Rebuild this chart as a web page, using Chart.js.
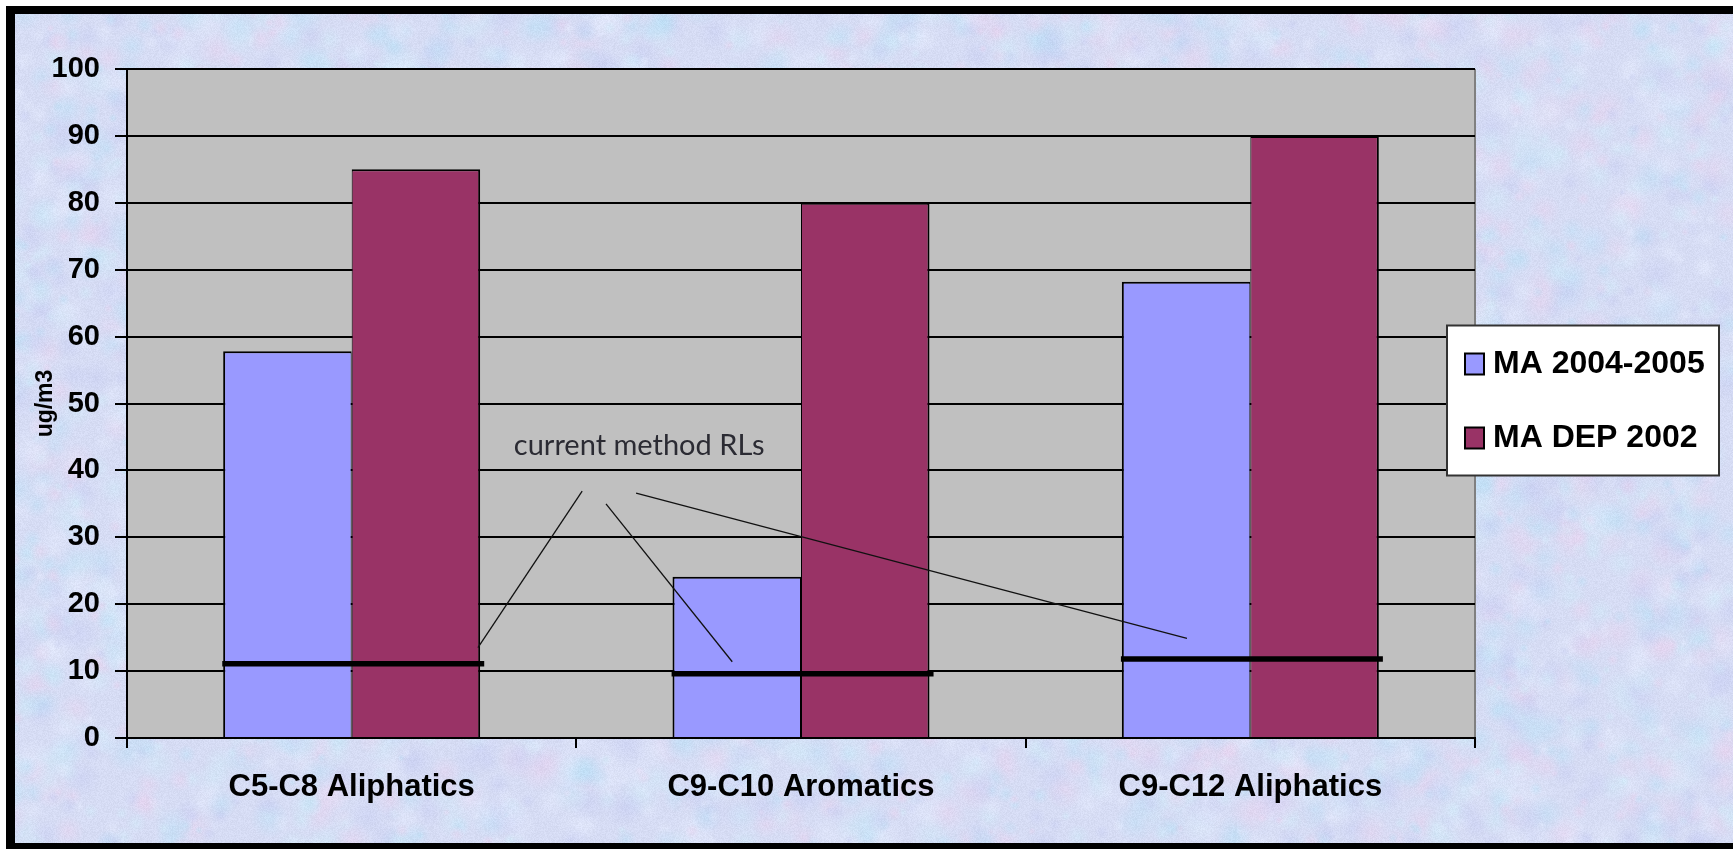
<!DOCTYPE html>
<html>
<head>
<meta charset="utf-8">
<title>Petroleum hydrocarbon fractions in indoor air</title>
<script src="https://cdn.jsdelivr.net/npm/chart.js@4.4.1/dist/chart.umd.min.js"></script>
<style>
  html, body { margin: 0; padding: 0; background: #fff; }
  #wrap { position: relative; width: 1733px; height: 849px; overflow: hidden; }
  #bg, #chart { position: absolute; left: 0; top: 0; }
</style>
</head>
<body>
<div id="wrap">
  <canvas id="bg" width="1733" height="849"></canvas>
  <canvas id="chart" width="1733" height="849"></canvas>
</div>
<script>
// ---- data ----
const categories = ['C5-C8 Aliphatics', 'C9-C10 Aromatics', 'C9-C12 Aliphatics'];
const seriesNames = ['MA 2004-2005', 'MA DEP 2002'];
const ma20042005 = [57.8, 24.1, 68.2];
const maDep2002 = [85, 80, 90];
const reportingLimits = [11.1, 9.6, 11.8];
const yTicks = [0, 10, 20, 30, 40, 50, 60, 70, 80, 90, 100];
const yTitle = 'ug/m3';

// callout: label anchor and leader lines, in (category index, value) units
const calloutText = 'current method RLs';
const calloutAnchor = [0.64, 43.7];
const leaderStarts = [[0.513, 36.9], [0.566, 35.0], [0.633, 36.6]];
const leaderEnds = [[0.281, 13.5], [0.847, 11.4], [1.859, 14.9]];
const rlSpan = [-0.288, 0.295];

const seriesColors = ['#9999ff', '#993366'];

// ---- textured backdrop with black frame ----
(function drawBackdrop() {
  const c = document.getElementById('bg');
  const g = c.getContext('2d');
  const W = c.width, H = c.height;
  g.fillStyle = '#ffffff';
  g.fillRect(0, 0, W, H);
  g.fillStyle = '#d6dcf4';
  g.fillRect(6, 6, W - 6, H - 6);
  let s = 20240607;
  const rnd = () => { s = (Math.imul(s, 1664525) + 1013904223) >>> 0; return s / 4294967296; };
  const tints = [[188, 224, 246], [232, 210, 238], [228, 234, 252], [200, 206, 242], [208, 234, 248]];
  for (let i = 0; i < 5000; i++) {
    const x = rnd() * W, y = rnd() * H, r = 4 + rnd() * 18;
    const t = tints[Math.floor(rnd() * tints.length)];
    const grd = g.createRadialGradient(x, y, 0, x, y, r);
    grd.addColorStop(0, `rgba(${t[0]},${t[1]},${t[2]},0.5)`);
    grd.addColorStop(1, `rgba(${t[0]},${t[1]},${t[2]},0)`);
    g.fillStyle = grd;
    g.beginPath(); g.arc(x, y, r, 0, Math.PI * 2); g.fill();
  }
  const img = g.getImageData(0, 0, W, H);
  const d = img.data;
  for (let i = 0; i < d.length; i += 4) {
    const n = (rnd() - 0.5) * 12;
    d[i] += n; d[i + 1] += n; d[i + 2] += n;
  }
  g.putImageData(img, 0, 0);
  g.fillStyle = '#ffffff';
  g.fillRect(0, 0, W, 6); g.fillRect(0, 0, 6, H);
  g.fillStyle = '#000000';
  g.fillRect(6, 6, 9, H - 6);      // left edge
  g.fillRect(6, 6, W - 6, 8);      // top edge
  g.fillRect(6, H - 6, W - 6, 6);  // bottom edge
})();

// ---- datasets ----
const barDatasets = [ma20042005, maDep2002].map((vals, k) => ({
  label: seriesNames[k],
  data: vals,
  backgroundColor: seriesColors[k],
  borderColor: '#000000',
  borderWidth: k === 0 ? { left: 2, top: 2, right: 1, bottom: 0 } : { left: 1, top: 2, right: 2, bottom: 0 },
  borderSkipped: 'start',
  categoryPercentage: 0.572,
  barPercentage: 1
}));

// ---- plugins ----
const plotPanel = {
  id: 'plotPanel',
  beforeDraw(chart) {
    const { ctx, chartArea: a } = chart;
    ctx.save();
    ctx.fillStyle = '#c0c0c0';
    ctx.fillRect(a.left, a.top, a.right - a.left, a.bottom - a.top);
    ctx.strokeStyle = '#808080';
    ctx.lineWidth = 2;
    ctx.beginPath();
    ctx.moveTo(a.right, a.top); ctx.lineTo(a.right, a.bottom);
    ctx.stroke();
    ctx.restore();
  }
};

// reporting-limit bars across each group, plus the callout and its leader lines
const rlCallout = {
  id: 'rlCallout',
  afterDatasetsDraw(chart) {
    const { ctx, scales } = chart;
    const px = v => scales.x.getPixelForValue(v);
    const py = v => scales.y.getPixelForValue(v);
    ctx.save();
    ctx.strokeStyle = '#000000';
    ctx.lineCap = 'butt';
    ctx.lineWidth = 5.5;
    reportingLimits.forEach((v, i) => {
      ctx.beginPath();
      ctx.moveTo(px(i + rlSpan[0]), py(v));
      ctx.lineTo(px(i + rlSpan[1]), py(v));
      ctx.stroke();
    });
    ctx.strokeStyle = '#111111';
    ctx.lineWidth = 1.3;
    leaderStarts.forEach((p, i) => {
      const q = leaderEnds[i];
      ctx.beginPath();
      ctx.moveTo(px(p[0]), py(p[1]));
      ctx.lineTo(px(q[0]), py(q[1]));
      ctx.stroke();
    });
    ctx.font = '29px Lato, "Open Sans", sans-serif';
    ctx.fillStyle = '#2b2b33';
    ctx.textAlign = 'center';
    ctx.textBaseline = 'middle';
    ctx.fillText(calloutText, px(calloutAnchor[0]), py(calloutAnchor[1]));
    ctx.restore();
  }
};

const boxLegend = {
  id: 'boxLegend',
  afterDraw(chart) {
    const { ctx, chartArea: a } = chart;
    const items = chart.data.datasets;
    const w = 272, h = 150;
    const x0 = a.right - 28;
    const y0 = (a.top + a.bottom) / 2 - 78;
    ctx.save();
    ctx.fillStyle = '#ffffff';
    ctx.fillRect(x0, y0, w, h);
    ctx.strokeStyle = '#333333';
    ctx.lineWidth = 2;
    ctx.strokeRect(x0, y0, w, h);
    ctx.font = 'bold 32px "Liberation Sans", Arial, sans-serif';
    ctx.textBaseline = 'middle';
    ctx.textAlign = 'left';
    items.forEach((ds, i) => {
      const cy = y0 + 38 + i * 74;
      ctx.fillStyle = ds.backgroundColor;
      ctx.fillRect(x0 + 18, cy - 10, 19, 21);
      ctx.strokeStyle = '#000000';
      ctx.lineWidth = 2;
      ctx.strokeRect(x0 + 18, cy - 10, 19, 21);
      ctx.fillStyle = '#000000';
      ctx.fillText(ds.label, x0 + 46, cy + 1);
    });
    ctx.restore();
  }
};

// ---- chart ----
const tickFont = { family: '"Liberation Sans", Arial, sans-serif', size: 29, weight: 'bold' };

new Chart(document.getElementById('chart'), {
  type: 'bar',
  data: { labels: categories, datasets: barDatasets },
  options: {
    responsive: false,
    animation: false,
    devicePixelRatio: 1,
    layout: { padding: { left: 0, top: 69, right: 258, bottom: 0 } },
    plugins: {
      legend: { display: false },
      tooltip: { enabled: false }
    },
    scales: {
      x: {
        type: 'category',
        offset: true,
        grid: { offset: true, drawOnChartArea: false, drawTicks: true, tickLength: 10, color: '#000000', lineWidth: 2 },
        border: { display: true, color: '#000000', width: 2 },
        ticks: {
          font: { family: '"Liberation Sans", Arial, sans-serif', size: 31, weight: 'bold' },
          color: '#000000',
          padding: 21,
          maxRotation: 0,
          autoSkip: false
        },
        afterFit(scale) { scale.height = 111; }
      },
      y: {
        min: yTicks[0],
        max: yTicks[yTicks.length - 1],
        afterBuildTicks(scale) { scale.ticks = yTicks.map(v => ({ value: v })); },
        grid: { color: '#000000', lineWidth: 2, tickLength: 12 },
        border: { display: true, color: '#000000', width: 2 },
        ticks: { font: tickFont, color: '#000000', padding: 15 },
        title: {
          display: true,
          text: yTitle,
          color: '#000000',
          font: { family: '"Liberation Sans", Arial, sans-serif', size: 23, weight: 'bold' },
          padding: { top: 32, bottom: 0 }
        },
        afterFit(scale) { scale.width = 127; }
      }
    }
  },
  plugins: [plotPanel, rlCallout, boxLegend]
});
</script>
</body>
</html>
